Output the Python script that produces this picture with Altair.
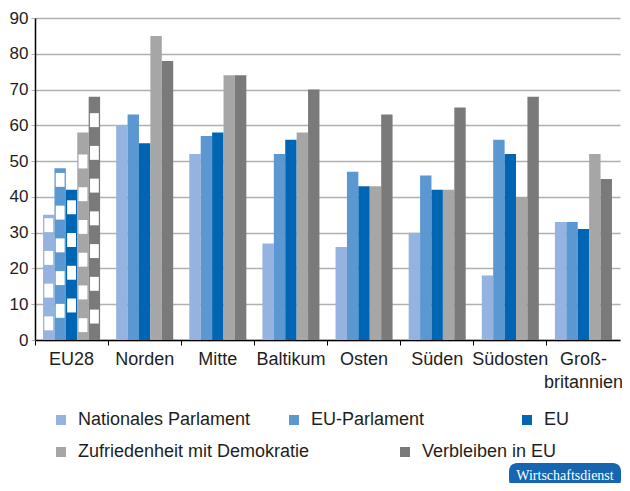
import altair as alt
import pandas as pd

regions = ["EU28", "Norden", "Mitte", "Baltikum", "Osten", "Süden", "Südosten", "Großbritannien"]
series = ["Nationales Parlament", "EU-Parlament", "EU", "Zufriedenheit mit Demokratie", "Verbleiben in EU"]

nationales_parlament = [35, 60, 52, 27, 26, 30, 18, 33]
eu_parlament = [48, 63, 57, 52, 47, 46, 56, 33]
eu = [42, 55, 58, 56, 43, 42, 52, 31]
zufriedenheit = [58, 85, 74, 58, 43, 42, 40, 52]
verbleiben = [68, 78, 74, 70, 63, 65, 68, 45]

values = dict(zip(series, [nationales_parlament, eu_parlament, eu, zufriedenheit, verbleiben]))
colors = ["#95b3e0", "#5b97d1", "#0066b3", "#a6a6a6", "#7a7a7a"]

FONT = "Liberation Sans"
TXT = "#1e1e1e"

rows = [{"Region": r, "Reihe": s, "Wert": v} for s in series for r, v in zip(regions, values[s])]
df = pd.DataFrame(rows)
dfA = df[df["Reihe"].isin(series[:3])]
dfB = df[df["Reihe"].isin(series[3:])]

# decorative checker pattern for the EU28 bars
pattern_phase = [2.7, 6.2, 7.7, 2.2, 4.6]
pattern_period = 9.15
pattern_height = 3.9
prow = []
for s, ph in zip(series, pattern_phase):
    top = values[s][0]
    start = ph
    while start + pattern_height <= top:
        prow.append({"Region": "EU28", "Reihe": s, "y0": start, "y1": start + pattern_height})
        start += pattern_period
dfP = pd.DataFrame(prow)

x = alt.X("Region:N", sort=regions,
          scale=alt.Scale(domain=regions, paddingInner=0, paddingOuter=0),
          axis=alt.Axis(title=None, labelAngle=0, labelFontSize=18, labelFont=FONT, labelColor=TXT,
                        tickSize=5, tickColor="#000", tickWidth=1, bandPosition=0,
                        domainColor="#000", domainWidth=1.5, labelPadding=5, labelLineHeight=23,
                        labelBaseline="top",
                        labelExpr="datum.value == 'Großbritannien' ? ['Groß-', 'britannien'] : datum.value"))
xo = alt.XOffset("Reihe:N", sort=series,
                 scale=alt.Scale(domain=series, paddingOuter=0.705, paddingInner=0))
xo_p = alt.XOffset("Reihe:N", sort=series,
                   scale=alt.Scale(domain=series, paddingOuter=0.815, paddingInner=0.22))
y_axis = alt.Axis(title=None, values=list(range(0, 91, 10)), grid=True, gridColor="#b0b0b0",
                  gridWidth=1.3, domainColor="#000", domainWidth=1.5, tickColor="#b0b0b0",
                  tickSize=4, labelFontSize=17, labelFont=FONT, labelColor=TXT, labelPadding=3)
y = alt.Y("Wert:Q", scale=alt.Scale(domain=[0, 90], nice=False), axis=y_axis)

legA = alt.Legend(title=None, orient="none", legendX=17, legendY=393, direction="horizontal",
                  columns=3, gridAlign="all", columnPadding=34, symbolType="square",
                  symbolSize=100, symbolStrokeWidth=0, labelFontSize=18, labelFont=FONT,
                  labelColor=TXT, labelOffset=8, labelLimit=400, padding=0)
legB = alt.Legend(title=None, orient="none", legendX=17, legendY=425, direction="horizontal",
                  columns=2, gridAlign="all", columnPadding=86, symbolType="square",
                  symbolSize=100, symbolStrokeWidth=0, labelFontSize=18, labelFont=FONT,
                  labelColor=TXT, labelOffset=8, labelLimit=400, padding=0)

barsA = alt.Chart(dfA).mark_bar().encode(
    x=x, xOffset=xo, y=y,
    color=alt.Color("Reihe:N", sort=series[:3],
                    scale=alt.Scale(domain=series[:3], range=colors[:3]), legend=legA))
barsB = alt.Chart(dfB).mark_bar().encode(
    x=x, xOffset=xo, y=y,
    fill=alt.Fill("Reihe:N", sort=series[3:],
                  scale=alt.Scale(domain=series[3:], range=colors[3:]), legend=legB))
pattern = alt.Chart(dfP).mark_bar(color="white").encode(
    x=x, xOffset=xo_p,
    y=alt.Y("y0:Q", scale=alt.Scale(domain=[0, 90], nice=False), axis=y_axis),
    y2="y1:Q")

badge_df = pd.DataFrame({"t": ["Wirtschaftsdienst"]})
badge = alt.Chart(badge_df).mark_rect(cornerRadius=8, color="#1565b0").encode(
    x=alt.value(474), x2=alt.value(586), y=alt.value(445), y2=alt.value(470))
badge_text = alt.Chart(badge_df).mark_text(font="Liberation Serif", fontSize=14, color="white",
                                           align="center", baseline="middle").encode(
    x=alt.value(530), y=alt.value(458), text="t:N")

chart = alt.layer(barsA, barsB, pattern, badge, badge_text).properties(
    width=585, height=322,
    autosize=alt.AutoSizeParams(type="none"),
    padding={"left": 27, "top": 10, "right": 2, "bottom": 143},
).configure_view(stroke=None).resolve_scale(color="independent", fill="independent",
                                           xOffset="independent")

chart.save("out.html", embed_options={"renderer": "svg", "actions": False})
